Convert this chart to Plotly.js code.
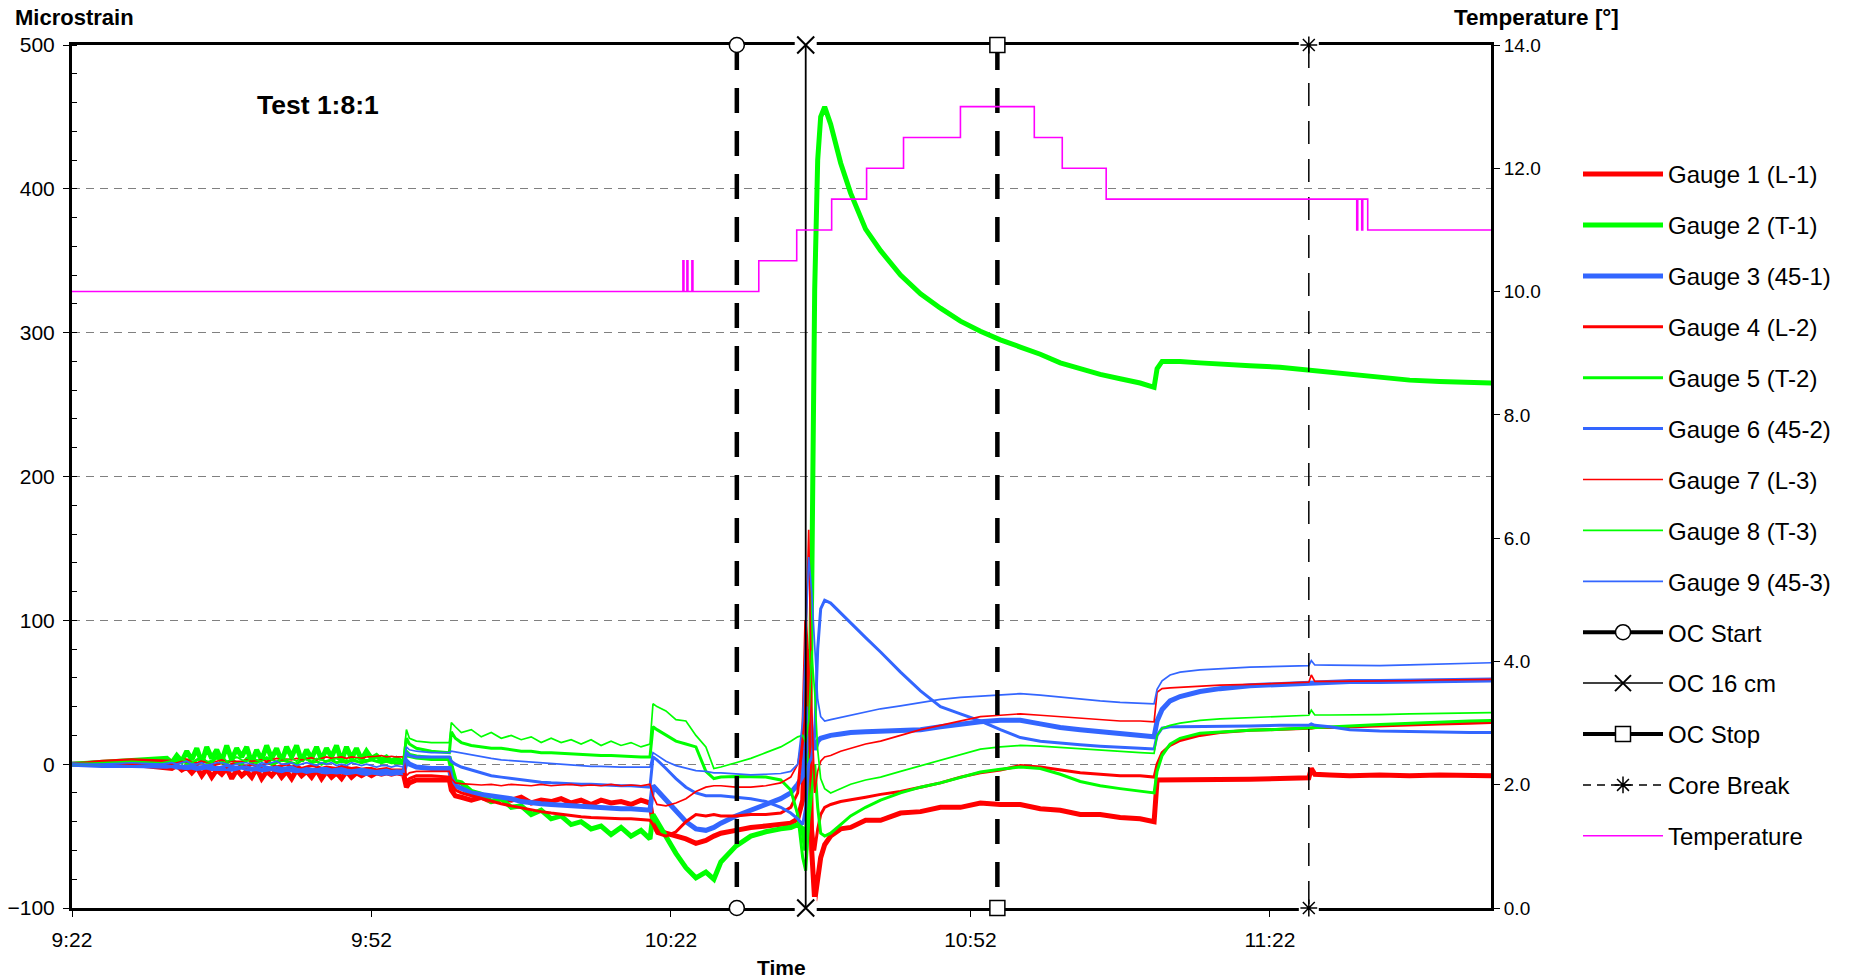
<!DOCTYPE html>
<html><head><meta charset="utf-8">
<script src="https://cdn.plot.ly/plotly-3.0.1.min.js"></script>
<style>html,body{margin:0;padding:0;background:#fff;}#chart{width:1849px;height:980px;}</style>
</head><body><div id="chart"></div>
<script>
// minutes after 9:22
const minutes = [0,3,6,9,
9.5,10,10.5,11,11.5,12,12.5,13,13.5,14,14.5,15,15.5,16,16.5,17,17.5,18,18.5,19,19.5,20,20.5,21,21.5,22,22.5,23,23.5,24,24.5,25,25.5,26,26.5,27,27.5,28,28.5,29,29.5,30,30.5,31,31.5,32,32.5,
33.2,
33.5,33.8,34.5,36,37.8,
38.0,38.4,39,40,41,42,43,44,45,46,47,48,49,50,51,52,53,54,55,56,57,57.9,
58.2,58.6,59.5,60.5,61.5,62.5,63.5,64.3,65,66.5,68,69.5,71,72,72.7,73.2,
73.5,73.8,74.1,74.4,74.7,75.0,75.4,
76,77,78,79.5,81,83,85,87,89,91,93,95,97,99,101,103,105,107,108.4,
108.7,109.2,110,111,113,115,118,121,123.9,124.15,124.5,126,128,131,134,137,140,142.2];

const gauge1 = [0,1,0,-2,
-2,-3,-1,-4,-2,-6,-2,-8,-3,-9,-4,-7,-3,-10,-4,-8,-5,-9,-3,-10,-5,-8,-4,-9,-5,-10,-4,-8,-5,-9,-4,-10,-5,-9,-6,-10,-5,-9,-6,-8,-6,-8,-6,-7,-6,-7,-6,
-7,
-16,-13,-11,-11,-11,
-18,-22,-23,-25,-23,-26,-24,-25,-23,-27,-25,-26,-24,-27,-25,-28,-25,-27,-26,-28,-25,-27,
-40,-46,-48,-50,-52,-55,-53,-50,-48,-46,-44,-43,-42,-41,-38,-25,
40,80,-60,-95,-80,-65,-56,
-50,-45,-44,-39,-39,-34,-33,-30,-30,-27,-28,-28,-31,-32,-35,-35,-37,-38,-40,
-11,-11,-10.5,-11,-10.5,-11,-10.5,-10,-9.5,-3,-7,-7.5,-8,-7.5,-8,-7.5,-8,-8];

const gauge2 = [0,1,2,3,
4,1,6,2,9,3,11,1,12,4,10,2,13,3,11,5,12,1,10,3,13,4,11,2,12,5,13,2,10,4,12,3,11,5,13,2,12,4,11,3,9,4,6,3,5,2,4,
1,
8,6,5,4,4,
-2,-12,-13,-19,-21,-26,-24,-30,-29,-35,-32,-38,-36,-42,-40,-45,-43,-49,-44,-50,-46,-52,
-35,-40,-50,-62,-72,-79,-75,-80,-68,-57,-50,-47,-45,-44,-42,-45,
-60,-20,120,330,420,450,457,
445,418,397,372,357,340,327,317,308,301,295,290,285,279,275,271,268,265,262,
275,280,280,280,279,278,277,276,274,274,273,272,271,269,267,266,265,265];

const gauge3 = [0,-1,-1,-2,
-1.5,-1,-2,-2,-2.5,-2,-3,-2.5,-2,-3,-3,-2.5,-3,-3.5,-3,-2,-3,-3.5,-3,-4,-3.5,-3,-4,-4.5,-3.5,-4,-4.5,-4,-5,-4.5,-4,-5,-5.5,-5,-5.5,-5,-6,-5.5,-5,-6,-6.5,-5.5,-6,-6.5,-6,-6.5,-6,
-6,
2,0,-2,-3,-3,
-10,-15,-17,-20,-21,-22,-23,-24,-26,-27,-27.5,-28,-28.5,-29,-29.5,-30,-30.5,-31,-31,-31,-31.5,-32,
-15,-18,-25,-33,-40,-45,-46,-44,-41,-36,-32,-28,-24,-20,-14,-8,
10,40,20,10,16,18,19,
20,21,22,22.5,23,23.5,24,26,28,29.5,30.5,30.5,28,25.5,24,22.5,21,20,19,
30,38,44,47,50.5,52.5,54.5,55.5,56.5,56.5,57,57,57.5,57.5,58,58,58.5,58.5];

const gauge4 = [0,2,3,2,
2,2,1,2.5,3,1,0,2,1.5,-1,0,1,-2,0,1,-1,-2,0,-1,-1.5,1,0,-2,-1,0,-2,-1,-3,-2,-1,-1.5,-3,-2,-2.5,-3,-1.5,-2,-3,-2.5,-3.5,-3,-3,-4,-3.5,-3,-4,-4,
-4,
-12,-10,-8,-8,-9,
-14,-18,-20,-22,-24,-26,-27.5,-29,-30.5,-32,-33,-34,-35,-36,-36.5,-37,-37.5,-38,-38,-38,-38.5,-39,
-42,-48,-50,-47,-40,-35,-36,-35,-36,-36,-35,-35,-34,-30,-20,20,
100,60,-40,-60,-45,-35,-30,
-28,-26,-25,-23,-21,-19,-16,-13,-9,-6,-4,-1,-2,-4,-6,-7,-8,-8,-9,
0,8,13,16.5,20,22,23.5,24.5,25,25,25.5,25.5,26,27,27.5,28,28.5,29];

const gauge5 = [0,0,1,0,
0.5,1,2,3,0.5,0,3,4,1,2,5,1,0.5,3,1,0,4,2,1,3,4,0,1,3,2,1,0,3,4,1,2,0,2,3,1,2,1,3,2,1,2,3,2,1,2,1,1,
1,
18,14,11,9,8,
22.5,18,15,13,12,11,11,10,9,9,8,8,7.5,7,7,6.5,6,6,5.5,5.5,5,5,
26,24,20,16,14,12,-5,-10,-9,-8.5,-8.7,-9,-11,-18,-35,-65,
-74,-40,-20,0,-30,-48,-50,
-48,-42,-36,-30,-25,-20,-16,-13,-9,-5.5,-3.5,-2,-3,-7,-12,-15,-17,-19,-20,
-5,6,14,18,21.5,22.5,23.5,24.2,25,25,25.2,25.8,26.5,27.5,28.5,29.3,30,30.4];

const gauge6 = [0,0,-1,-1,
-1,0,-1,-2,-1.5,-1,-2,-2,-1,-1.5,-3,-2,-1,-2,-2.5,-2,-2,-3,-2.5,-1,-2,-3,-2,-3,-2.5,-2,-3.5,-4,-3,-3.5,-4,-3,-3,-4,-3.5,-3,-4,-4.5,-4,-3.5,-4,-4.5,-5,-4.5,-4,-5,-4.5,
-5,
8,6,5,5,5,
2,0,-2,-4,-6,-8,-9,-10,-11,-12,-12.5,-13,-13.5,-14,-14,-14,-14.5,-15,-15,-15,-15.5,-16,
5,3,-3,-10,-16,-20,-22,-22,-22,-23,-24,-26,-30,-34,-38,-42,
-30,0,5,20,80,108,114,
112,105,98,88,78,64,51,40,35,30,24,18.5,16,14.5,13.5,12.5,11.5,11,10.5,
20,25,26,26,26,26.5,26.5,27,27,28,27,26,24,23,22.5,22.5,22,22];

const gauge7 = [0,1,0,1,
0.5,0,1,2,1.5,1,1,2,1.5,1,2,3,2,2,2.5,2,3,2,2.5,3,2,3,4,3,3.5,3,4,3,4,4.5,3,4,5,4,4.5,5,4,5,4.5,4,5,5,5.5,6,5,5.5,5,
5,
-8,-6,-5,-5,-5,
-10,-13,-13.5,-14,-14.5,-14,-15,-14,-14.5,-15,-14,-15,-14.5,-14,-15,-14.5,-15,-14,-15,-14.5,-15,-14,
-22,-28,-29,-27,-24,-19,-16,-15,-15,-16,-16,-15,-13,-9,0,20,
80,163,40,-20,-5,2,5,
6,9,11,14,16,20,24,27,30,33,34,35,34,33,32,31,30,30,29.5,
50,52.5,53,53.5,54,55,55.5,56.5,57,62,57.5,57.5,57.5,58,58,58.5,59,59];

const gauge8 = [0,1,2,1,
1.5,2,3,4,2,1,3,5,2,1,4,6,2,3,5,3,2,4,3,2,5,3,2,4,3,4,2,5,3,2,4,3,2,3,4,2,3,2,4,3,3,3,2,3,2,2,3,
3,
24,18,16,15,15,
29,26,22,24,19,22,18,20,17,19,15,18,15,17,14,17,13,16,13,15,12,14,
42,40,37,31,30,20,12,-3,-2,1,4,8,12,16,19,20,
15,30,79,50,10,-10,-17,
-20,-17,-14,-11,-9,-5,-1,3,7,10.5,12,13,12.5,11.5,11,10,9,8,7.5,
20,25,27,28.5,30.5,31.5,32.5,33,34,37.5,34.2,34.2,34.2,34.5,35,35.3,35.6,35.8];

const gauge9 = [0,0,1,0,
0.5,1,0,1,2,0,0,1,-1,0,1,1,0,-1,0,1,1,0,-1,1,0,1,2,0,0,1,-1,0,1,0,-1,1,0,1,-1,0,-1,1,0,-1,0,-1,-2,-1,-1,-2,-1,
-2,
12,10,9,8,8,
9,8.5,7.5,6,5,4,3,2.5,2,1,0.5,0,-0.5,-1,-1,-1.5,-1.5,-2,-2,-2,-2,-2,
8,6,2,-1,-3,-4.5,-5,-6,-6,-7,-7.5,-7,-6.5,-5,0,30,
90,144,120,80,45,33,30,
31,32.5,34,36,38.5,40.5,43,45,46.5,47.5,48.5,49,48,46.5,45,44,43,42.5,42,
52,58,62,64,65.5,66.5,67.5,68,68.5,72,69,68.8,68.5,68.5,69,69.5,70,70.5];

const tempMinutes = [0,61.2,61.3,61.6,61.7,62.1,62.2,68.8,72.6,76.1,79.6,83.3,89.0,96.4,99.2,103.6,128.7,128.8,129.2,129.3,129.8,142.2];
const tempValues  = [10.0,10.5,10.0,10.5,10.0,10.5,10.0,10.5,11.0,11.5,12.0,12.5,13.0,12.5,12.0,11.5,11.0,11.5,11.0,11.5,11.0,11.0];

const gaugeNames = ['Gauge 1 (L-1)','Gauge 2 (T-1)','Gauge 3 (45-1)','Gauge 4 (L-2)','Gauge 5 (T-2)','Gauge 6 (45-2)','Gauge 7 (L-3)','Gauge 8 (T-3)','Gauge 9 (45-3)'];
const eventNames = ['OC Start','OC 16 cm','OC Stop','Core Break'];
const eventMinutes = [66.6, 73.5, 92.7, 123.9];

const FONT = 'Liberation Sans, Arial, sans-serif';
function pad(n){return (n<10?'0':'')+n;}
function toX(m){
  const s = Math.round((9*60+22)*60 + m*60);
  return '2000-01-01 ' + pad(Math.floor(s/3600)) + ':' + pad(Math.floor((s%3600)/60)) + ':' + pad(s%60);
}
const xs = minutes.map(toX);
const gaugeData = [gauge1,gauge2,gauge3,gauge4,gauge5,gauge6,gauge7,gauge8,gauge9];
const RED='#FF0000', GREEN='#00FF00', BLUE='#3366FF';
const gaugeColors = [RED,GREEN,BLUE,RED,GREEN,BLUE,RED,GREEN,BLUE];
const gaugeWidths = [5,5,5,3,3,3,1.7,1.7,1.7];

const traces = [];
gaugeData.forEach((ys,i)=>{
  traces.push({x:xs, y:ys, type:'scatter', mode:'lines', name:gaugeNames[i],
    legendgroup:'g'+i, line:{color:gaugeColors[i], width:gaugeWidths[i]}, hoverinfo:'skip'});
});

const evStyles = [
  {line:{color:'black',width:4.5,dash:'25px,18px'}, marker:{symbol:'circle',size:15,color:'white',line:{color:'black',width:1.5}},
   legLine:{color:'black',width:4}},
  {line:{color:'black',width:1.8}, marker:{symbol:'x-thin-open',size:17,color:'black',line:{color:'black',width:2}},
   legLine:{color:'black',width:1.5}},
  {line:{color:'black',width:4.5,dash:'25px,18px'}, marker:{symbol:'square',size:15,color:'white',line:{color:'black',width:1.5}},
   legLine:{color:'black',width:4}},
  {line:{color:'black',width:1.5,dash:'23px,15px'}, marker:{symbol:'asterisk-open',size:14,color:'black',line:{color:'black',width:1.5}},
   legLine:{color:'black',width:1.5,dash:'8px,6px'}}
];
// white patches behind the thin-line markers (gap in the frame, as in the original)
[1,3].forEach(i=>{
  const m = eventMinutes[i];
  traces.push({x:[toX(m),toX(m)], y:[500,-100], type:'scatter', mode:'markers', showlegend:false, cliponaxis:false,
    marker:{symbol:'square', size:i===1?22:20, color:'white', line:{width:0}}, hoverinfo:'skip'});
});
eventMinutes.forEach((m,i)=>{
  traces.push({x:[toX(m),toX(m)], y:[500,-100], type:'scatter', mode:'lines+markers', showlegend:false,
    cliponaxis:false, line:evStyles[i].line, marker:evStyles[i].marker, hoverinfo:'skip'});
});
eventMinutes.forEach((m,i)=>{
  traces.push({x:[null], y:[null], type:'scatter', mode:'lines+markers', name:eventNames[i], legendgroup:'e'+i,
    line:evStyles[i].legLine, marker:evStyles[i].marker});
});
traces.push({x:tempMinutes.map(toX), y:tempValues, type:'scatter', mode:'lines', name:'Temperature', legendgroup:'t',
  yaxis:'y2', line:{color:'#FF00FF', width:1.6, shape:'hv'}, hoverinfo:'skip'});

const L=72, R=1491, T=45, B=908;
const px = v => (v-L)/(R-L);
const py = v => (B-v)/(B-T);

const layout = {
  width:1849, height:980,
  margin:{l:L, r:1849-R, t:T, b:980-B, pad:0},
  paper_bgcolor:'white', plot_bgcolor:'white',
  font:{family:FONT, size:19, color:'black'},
  showlegend:true,
  legend:{x:px(1578), y:py(152), xanchor:'left', yanchor:'top', font:{family:FONT,size:24,color:'black'},
    tracegroupgap:16.7, itemwidth:80, bgcolor:'rgba(0,0,0,0)', borderwidth:0},
  xaxis:{type:'date', range:[toX(0), toX(142.15)], tick0:toX(0), dtick:1800000, tickformat:'%-H:%M',
    ticks:'outside', ticklen:6, tickwidth:1, tickcolor:'black', showline:true, linewidth:3, linecolor:'black',
    mirror:true, showgrid:false, zeroline:false, tickfont:{family:FONT,size:21}, ticklabelstandoff:5, layer:'below traces'},
  yaxis:{range:[-100,500], dtick:100, ticks:'outside', ticklen:6, tickwidth:1, tickcolor:'black',
    showline:true, linewidth:3, linecolor:'black', mirror:true, showgrid:true, gridcolor:'#808080', gridwidth:1,
    griddash:'8px,6px', zeroline:false, tickfont:{family:FONT,size:21}, ticklabelstandoff:4, layer:'below traces',
    minor:{dtick:20, ticks:'inside', ticklen:5, tickcolor:'black', showgrid:false}},
  yaxis2:{overlaying:'y', side:'right', range:[0,14], dtick:2, tickformat:'.1f', ticks:'outside', ticklen:6,
    tickcolor:'black', showline:true, linewidth:3, linecolor:'black', showgrid:false, zeroline:false,
    tickfont:{family:FONT,size:19}, layer:'below traces'},
  annotations:[
    {xref:'paper', yref:'paper', x:px(13), y:py(18), xanchor:'left', yanchor:'middle', showarrow:false,
     text:'<b>Microstrain</b>', font:{family:FONT,size:22,color:'black'}},
    {xref:'paper', yref:'paper', x:px(1452), y:py(18), xanchor:'left', yanchor:'middle', showarrow:false,
     text:'<b>Temperature [°]</b>', font:{family:FONT,size:22.5,color:'black'}},
    {xref:'paper', yref:'paper', x:px(318), y:py(105), xanchor:'center', yanchor:'middle', showarrow:false,
     text:'<b>Test 1:8:1</b>', font:{family:FONT,size:26.5,color:'black'}},
    {xref:'paper', yref:'paper', x:0.5, y:py(967), xanchor:'center', yanchor:'middle', showarrow:false,
     text:'<b>Time</b>', font:{family:FONT,size:21,color:'black'}}
  ]
};
Plotly.newPlot('chart', traces, layout, {staticPlot:true, displayModeBar:false});
</script></body></html>
